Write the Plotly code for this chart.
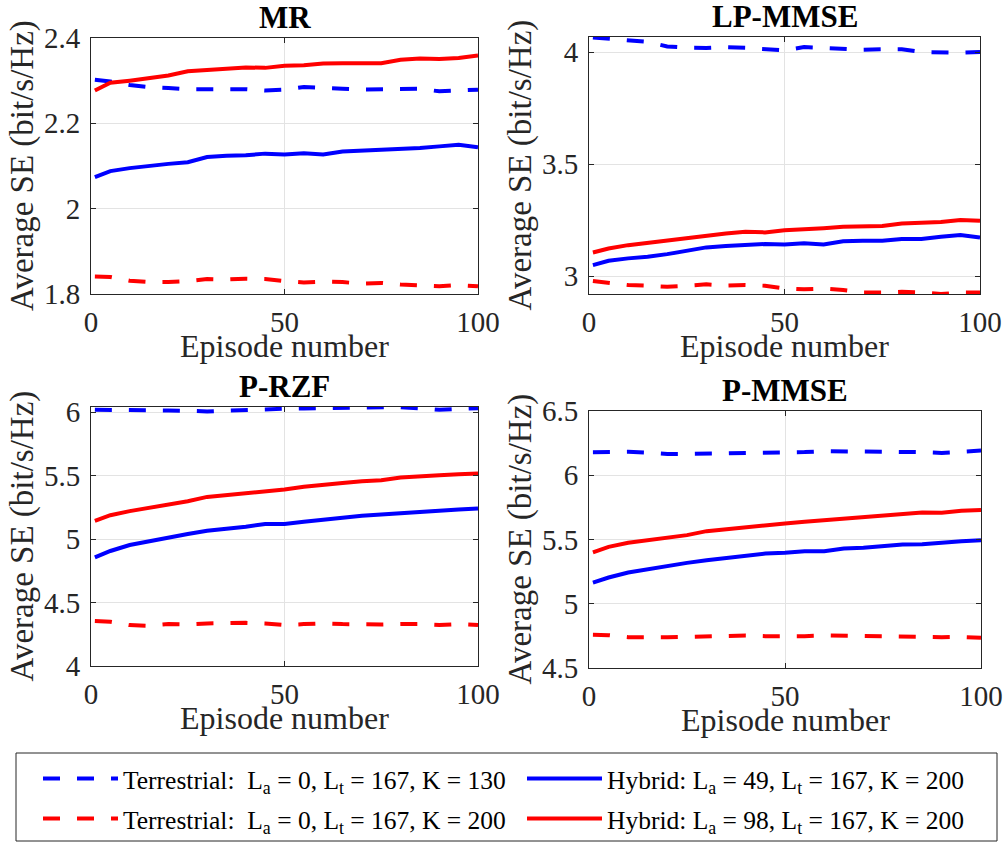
import plotly.graph_objects as go

# ---------------- data ----------------
episodes = [1, 5, 10, 15, 20, 25, 30, 35, 40, 45, 50, 55, 60, 65, 70, 75, 80, 85, 90, 95, 100]

titles = ["MR", "LP-MMSE", "P-RZF", "P-MMSE"]

series_names = [
    "Terrestrial:  L<sub>a</sub> = 0, L<sub>t</sub> = 167, K = 130",
    "Hybrid: L<sub>a</sub> = 49, L<sub>t</sub> = 167, K = 200",
    "Terrestrial:  L<sub>a</sub> = 0, L<sub>t</sub> = 167, K = 200",
    "Hybrid: L<sub>a</sub> = 98, L<sub>t</sub> = 167, K = 200",
]

# MR
mr_terr_130 = [2.302, 2.298, 2.290, 2.285, 2.283, 2.280, 2.280, 2.281, 2.280, 2.277, 2.279,
               2.285, 2.284, 2.281, 2.279, 2.279, 2.279, 2.281, 2.275, 2.277, 2.279]
mr_hyb_49 = [2.074, 2.088, 2.095, 2.101, 2.105, 2.109, 2.121, 2.124, 2.125, 2.129, 2.127,
             2.130, 2.127, 2.134, 2.136, 2.137, 2.138, 2.142, 2.146, 2.150, 2.144]
mr_terr_200 = [1.841, 1.840, 1.831, 1.828, 1.828, 1.830, 1.835, 1.834, 1.836, 1.835, 1.830,
               1.827, 1.829, 1.828, 1.824, 1.826, 1.822, 1.821, 1.818, 1.821, 1.818]
mr_hyb_98 = [2.277, 2.295, 2.300, 2.306, 2.312, 2.322, 2.325, 2.327, 2.331, 2.330, 2.335,
             2.336, 2.340, 2.341, 2.340, 2.341, 2.349, 2.352, 2.351, 2.353, 2.359]

# LP-MMSE
lp_terr_130 = [4.065, 4.059, 4.049, 4.045, 4.025, 4.019, 4.018, 4.022, 4.019, 4.012, 4.007,
               4.022, 4.019, 4.015, 4.010, 4.012, 4.012, 4.000, 3.997, 3.997, 4.000]
lp_hyb_49 = [3.049, 3.068, 3.079, 3.086, 3.098, 3.113, 3.128, 3.134, 3.138, 3.143, 3.141,
             3.146, 3.141, 3.155, 3.158, 3.158, 3.165, 3.166, 3.175, 3.183, 3.172]
lp_terr_200 = [2.978, 2.970, 2.960, 2.957, 2.952, 2.957, 2.963, 2.957, 2.960, 2.957, 2.945,
               2.941, 2.944, 2.938, 2.927, 2.927, 2.930, 2.927, 2.920, 2.926, 2.927]
lp_hyb_98 = [3.105, 3.123, 3.138, 3.149, 3.160, 3.172, 3.183, 3.190, 3.198, 3.195, 3.205,
             3.208, 3.214, 3.220, 3.223, 3.224, 3.235, 3.239, 3.241, 3.250, 3.247]

# P-RZF
rzf_terr_130 = [6.018, 6.018, 6.018, 6.016, 6.013, 6.010, 6.005, 6.012, 6.018, 6.020, 6.026,
                6.028, 6.031, 6.032, 6.034, 6.036, 6.039, 6.030, 6.018, 6.025, 6.031]
rzf_hyb_49 = [4.855, 4.906, 4.953, 4.984, 5.010, 5.039, 5.066, 5.079, 5.097, 5.118, 5.118,
              5.136, 5.149, 5.167, 5.183, 5.194, 5.201, 5.215, 5.223, 5.233, 5.240]
rzf_terr_200 = [4.354, 4.348, 4.322, 4.317, 4.330, 4.327, 4.335, 4.340, 4.340, 4.335, 4.322,
                4.330, 4.335, 4.330, 4.327, 4.327, 4.330, 4.330, 4.322, 4.330, 4.322]
rzf_hyb_98 = [5.143, 5.188, 5.220, 5.245, 5.272, 5.298, 5.332, 5.345, 5.363, 5.371, 5.390,
              5.411, 5.429, 5.442, 5.455, 5.463, 5.484, 5.497, 5.503, 5.511, 5.516]

# P-MMSE
pm_terr_130 = [6.179, 6.180, 6.182, 6.175, 6.166, 6.166, 6.166, 6.170, 6.174, 6.174, 6.174,
               6.180, 6.187, 6.187, 6.187, 6.187, 6.187, 6.180, 6.174, 6.185, 6.192]
pm_hyb_49 = [5.165, 5.204, 5.243, 5.270, 5.296, 5.318, 5.339, 5.357, 5.378, 5.391, 5.396,
             5.409, 5.409, 5.430, 5.435, 5.448, 5.461, 5.464, 5.477, 5.487, 5.495]
pm_terr_200 = [4.758, 4.755, 4.740, 4.738, 4.740, 4.742, 4.745, 4.750, 4.753, 4.748, 4.745,
               4.748, 4.753, 4.750, 4.745, 4.743, 4.740, 4.742, 4.740, 4.742, 4.735]
pm_hyb_98 = [5.400, 5.443, 5.474, 5.495, 5.513, 5.534, 5.565, 5.581, 5.600, 5.610, 5.625,
             5.638, 5.651, 5.664, 5.672, 5.685, 5.703, 5.711, 5.708, 5.724, 5.729]

panel_data = [
    [mr_terr_130, mr_hyb_49, mr_terr_200, mr_hyb_98],
    [lp_terr_130, lp_hyb_49, lp_terr_200, lp_hyb_98],
    [rzf_terr_130, rzf_hyb_49, rzf_terr_200, rzf_hyb_98],
    [pm_terr_130, pm_hyb_49, pm_terr_200, pm_hyb_98],
]

y_ranges = [[1.8, 2.4], [2.92, 4.067], [4.0, 6.04], [4.5, 6.5]]
y_ticks = [[1.8, 2.0, 2.2, 2.4], [3.0, 3.5, 4.0], [4.0, 4.5, 5.0, 5.5, 6.0], [4.5, 5.0, 5.5, 6.0, 6.5]]
y_ticktext = [["1.8", "2", "2.2", "2.4"], ["3", "3.5", "4"], ["4", "4.5", "5", "5.5", "6"],
              ["4.5", "5", "5.5", "6", "6.5"]]
x_ticks = [0, 50, 100]

# ---------------- style ----------------
W, H = 1006, 843
colors = ["#0000ff", "#0000ff", "#ff0000", "#ff0000"]
dashes = ["17px,17px", "solid", "17px,17px", "solid"]
legend_of = ["legend", "legend", "legend2", "legend2"]
FONT = "Liberation Serif, Times New Roman, serif"
AX = "#262626"

# plot areas in pixels: (left, right, top, bottom)
boxes = [(91, 478, 38, 294), (589, 980, 37, 294), (91, 478, 407, 666), (589, 981, 411, 668)]

fig = go.Figure()

for i in range(4):
    xa = "x" if i == 0 else f"x{i+1}"
    ya = "y" if i == 0 else f"y{i+1}"
    for j in range(4):
        fig.add_trace(go.Scatter(
            x=episodes, y=panel_data[i][j], mode="lines",
            line=dict(color=colors[j], width=4, dash=dashes[j]),
            name=series_names[j], showlegend=(i == 0), legendgroup=str(j),
            legend=legend_of[j], xaxis=xa, yaxis=ya,
        ))

LEG_X = 38
ITEM_W = 75
ENTRY_W = 484 - ITEM_W - 15


def legend_row(center_y):
    return dict(
        orientation="h", x=LEG_X / W, y=1 - center_y / H, xanchor="left", yanchor="middle",
        entrywidth=ENTRY_W, entrywidthmode="pixels", itemwidth=ITEM_W,
        font=dict(family=FONT, size=25.5, color="black"),
        bgcolor="rgba(0,0,0,0)", borderwidth=0, traceorder="normal",
    )


layout = dict(
    width=W, height=H,
    margin=dict(l=0, r=0, t=0, b=0, autoexpand=False),
    paper_bgcolor="white", plot_bgcolor="white",
    font=dict(family=FONT, size=29, color="#262626"),
    showlegend=True,
    legend=legend_row(779),
    legend2=legend_row(819),
)

annotations = []
shapes = []
for i, (l, r, t, b) in enumerate(boxes):
    sx = "" if i == 0 else str(i + 1)
    layout[f"xaxis{sx}"] = dict(
        domain=[l / W, r / W], range=[0, 100], anchor=f"y{sx}",
        tickvals=x_ticks, ticks="inside", ticklen=5, tickcolor=AX, ticklabelstandoff=2,
        showline=True, linecolor=AX, linewidth=1, mirror="ticks",
        showgrid=True, gridcolor="#e3e3e3", gridwidth=1, zeroline=False,
        tickfont=dict(family=FONT, size=29, color="#262626"),
    )
    layout[f"yaxis{sx}"] = dict(
        domain=[1 - b / H, 1 - t / H], range=y_ranges[i], anchor=f"x{sx}",
        tickvals=y_ticks[i], ticktext=y_ticktext[i], ticks="inside", ticklen=5, tickcolor=AX,
        ticklabelstandoff=4,
        showline=True, linecolor=AX, linewidth=1, mirror="ticks",
        showgrid=True, gridcolor="#e3e3e3", gridwidth=1, zeroline=False,
        tickfont=dict(family=FONT, size=29, color="#262626"),
    )
    cx = (l + r) / 2
    # subplot title
    annotations.append(dict(text=f"<b>{titles[i]}</b>", x=cx / W, y=1 - (t - 21) / H,
                            xref="paper", yref="paper", showarrow=False,
                            font=dict(family=FONT, size=31, color="black"),
                            xanchor="center", yanchor="middle"))
    # x title
    annotations.append(dict(text="Episode number", x=cx / W, y=1 - (b + 52) / H,
                            xref="paper", yref="paper", showarrow=False,
                            font=dict(family=FONT, size=32, color="#262626"),
                            xanchor="center", yanchor="middle"))
    # y title
    annotations.append(dict(text="Average SE (bit/s/Hz)", x=(l - 69) / W, y=1 - ((t + b) / 2) / H,
                            xref="paper", yref="paper", showarrow=False, textangle=-90,
                            font=dict(family=FONT, size=33, color="#262626"),
                            xanchor="center", yanchor="middle"))

# legend frame
shapes.append(dict(type="rect", xref="paper", yref="paper",
                   x0=16 / W, x1=997 / W, y0=1 - 841 / H, y1=1 - 753 / H,
                   line=dict(color="#262626", width=1), fillcolor="rgba(0,0,0,0)"))

layout["annotations"] = annotations
layout["shapes"] = shapes
fig.update_layout(**layout)

fig.write_html("out.html")
